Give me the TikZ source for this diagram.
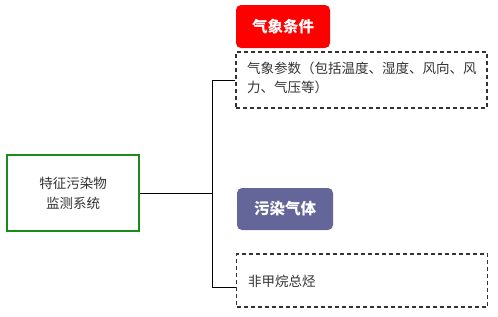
\documentclass[tikz,border=0pt]{standalone}
\usepackage{fontspec}
\setmainfont{Noto Sans CJK SC}
\newfontfamily\cjk{Noto Sans CJK SC}
\begin{document}
\begin{tikzpicture}[x=1pt,y=-1pt,
  titlebox/.style={rounded corners=5pt,text=white,font=\cjk\bfseries\fontsize{15.5}{18}\selectfont,inner sep=0pt},
  dashbox/.style={draw=black!80,dashed,line width=1.1pt,dash pattern=on 4pt off 3pt},
  txt/.style={text=black!80,font=\cjk\fontsize{13.5}{19}\selectfont,inner sep=0pt,align=left},
  conn/.style={draw=black,line width=1pt}]
\useasboundingbox (0,0) rectangle (498,316);
% left box
\node[draw=green!50!black!90,line width=1.3pt,minimum width=132pt,minimum height=76pt,inner sep=0pt,
  text=black!80,font=\cjk\fontsize{13.5}{20}\selectfont,align=center] (root) at (73,193) {特征污染物\\监测系统};
% titles
\node[titlebox,fill=red,minimum width=94pt,minimum height=43pt] (t1) at (283,26.5) {气象条件};
\node[titlebox,fill={rgb,255:red,100;green,102;blue,154},minimum width=96pt,minimum height=42pt] (t2) at (285,209) {污染气体};
% dashed boxes
\node[dashbox,minimum width=251pt,minimum height=56pt,inner sep=0pt] (d1) at (361.5,80) {};
\node[txt,anchor=north west] (d1t) at (247,62) {气象参数（包括温度、湿度、风向、风\\力、气压等）};
\node[dashbox,minimum width=251pt,minimum height=53pt,inner sep=0pt] (d2) at (362,280.5) {};
\node[txt,anchor=west] (d2t) at (248,281) {非甲烷总烃};
% connectors
\coordinate (j) at (212,193);
\coordinate (jt) at (212,80);
\coordinate (jb) at (212,287);
\coordinate (e2) at (d2.west |- jb);
\draw[conn] (root.east) -- (j);
\draw[conn] (d1.west) -- (jt) -- (jb) -- (e2);
\end{tikzpicture}
\end{document}
